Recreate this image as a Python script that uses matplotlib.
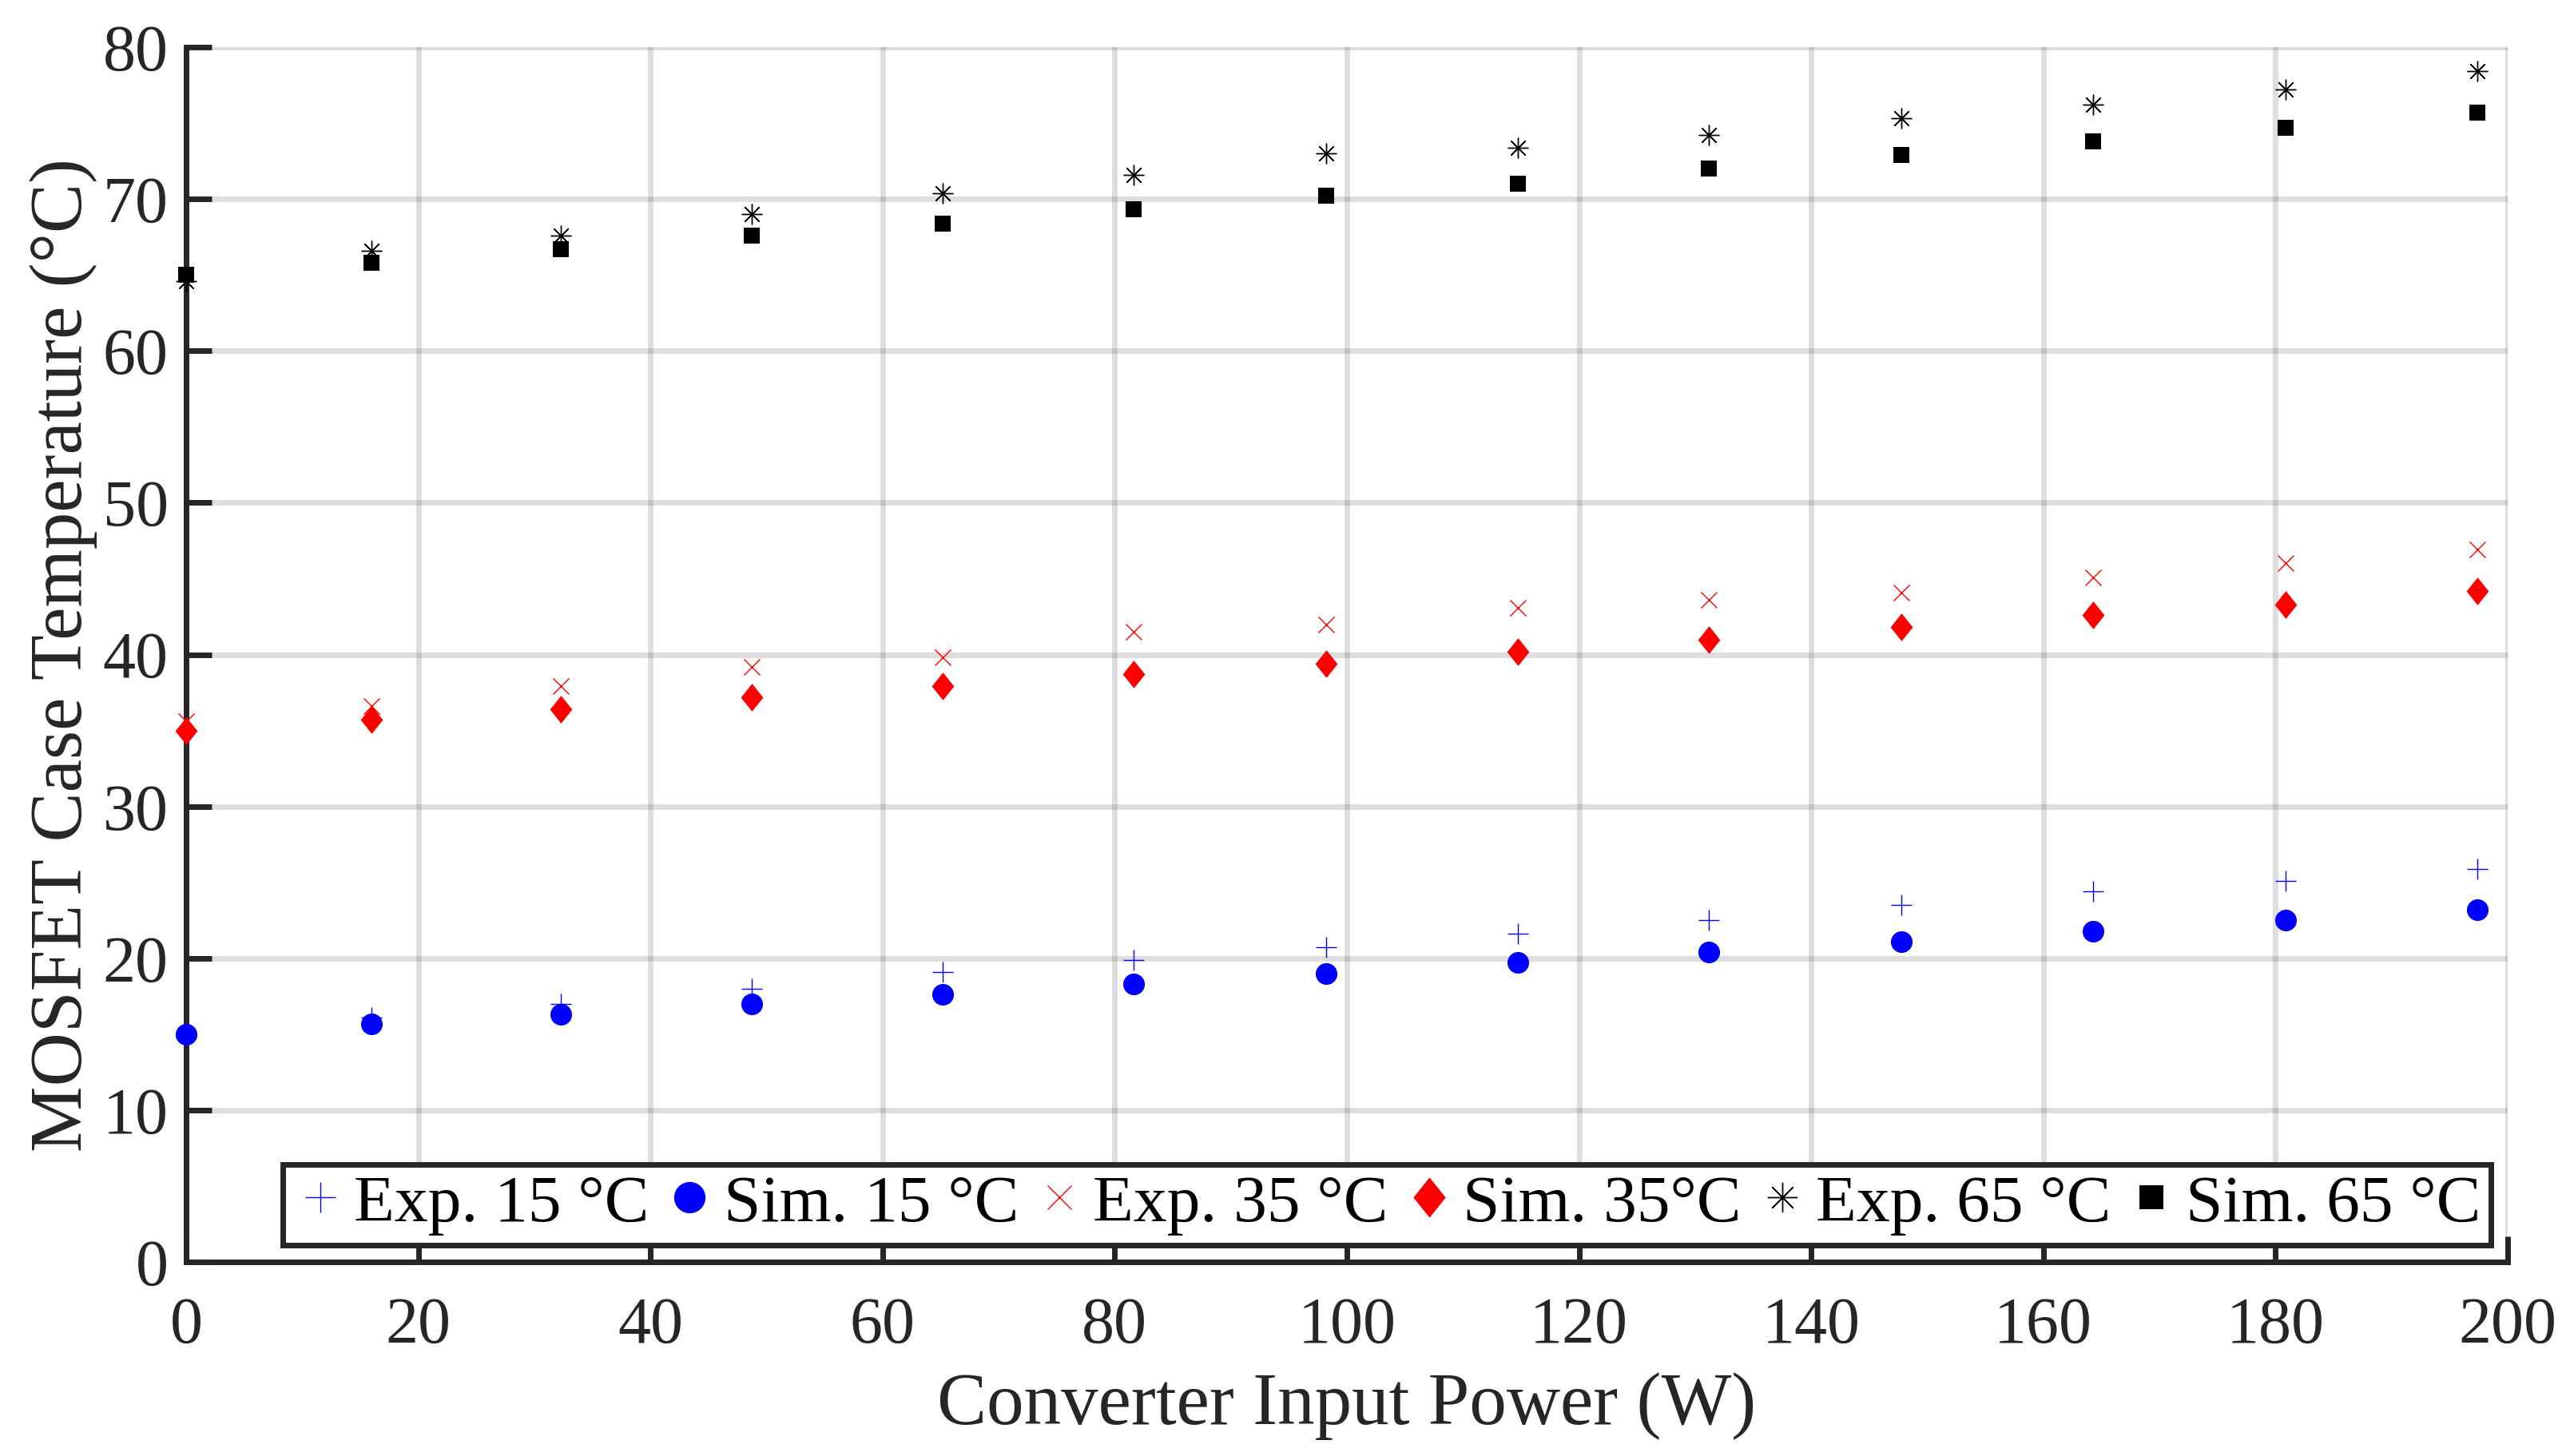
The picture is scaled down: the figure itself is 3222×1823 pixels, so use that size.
import numpy as np
import matplotlib
matplotlib.use("Agg")
import matplotlib.pyplot as plt

plt.rcParams['font.family'] = ['Liberation Serif', 'DejaVu Serif']

# --- data ------------------------------------------------------------------
power = [0, 16.0, 32.3, 48.7, 65.2, 81.6, 98.2, 114.7, 131.2, 147.8, 164.3, 180.9, 197.4]
exp_15 = [14.8, 16.1, 17.0, 18.0, 19.1, 19.9, 20.7, 21.6, 22.5, 23.5, 24.4, 25.1, 25.9]
sim_15 = [15.0, 15.7, 16.3, 17.0, 17.6, 18.3, 19.0, 19.7, 20.4, 21.1, 21.8, 22.5, 23.2]
exp_35 = [35.6, 36.6, 37.9, 39.2, 39.8, 41.5, 42.0, 43.1, 43.6, 44.1, 45.1, 46.0, 46.9]
sim_35 = [35.0, 35.7, 36.4, 37.2, 37.9, 38.7, 39.4, 40.2, 41.0, 41.8, 42.6, 43.3, 44.2]
exp_65 = [64.6, 66.6, 67.6, 69.0, 70.4, 71.6, 73.0, 73.4, 74.2, 75.3, 76.2, 77.2, 78.4]
sim_65 = [65.0, 65.8, 66.7, 67.6, 68.4, 69.3, 70.2, 71.0, 72.0, 72.9, 73.8, 74.7, 75.7]

labels = ['Exp. 15 °C', 'Sim. 15 °C', 'Exp. 35 °C', 'Sim. 35°C', 'Exp. 65 °C', 'Sim. 65 °C']

DARK = '#262626'
# MATLAB-like tall diamond
tall_diamond = [(0, 1), (0.8, 0), (0, -1), (-0.8, 0), (0, 1)]

fig = plt.figure(figsize=(32.23, 18.23), dpi=100)
ax = fig.add_axes([0.0723, 0.1333, 0.9016, 0.8343])

kw = dict(ls='none', clip_on=False, zorder=5)
ax.plot(power, exp_15, marker='+', ms=19, mew=1.0, color='blue', label=labels[0], **kw)
ax.plot(power, sim_15, marker='o', ms=19.5, mew=0, color='blue', label=labels[1], **kw)
ax.plot(power, exp_35, marker='x', ms=14.5, mew=1.0, color='red', label=labels[2], **kw)
ax.plot(power, sim_35, marker=tall_diamond, ms=25, mew=0, color='red', label=labels[3], **kw)
ax.plot(power, exp_65, marker=(8, 2, 0), ms=18.5, mew=1.0, color='black', label=labels[4], **kw)
ax.plot(power, sim_65, marker='s', ms=14.5, mew=0, color='black', label=labels[5], **kw)

ax.set_xlim(0, 200)
ax.set_ylim(0, 80)
ax.set_xticks(np.arange(0, 201, 20))
ax.set_yticks(np.arange(0, 81, 10))

ax.grid(True, color=DARK, alpha=0.15, lw=5)
ax.set_axisbelow(True)
for side in ['top', 'right']:
    ax.spines[side].set_visible(False)
for side in ['left', 'bottom']:
    ax.spines[side].set_linewidth(5)
    ax.spines[side].set_color(DARK)

ax.tick_params(axis='both', direction='in', length=23, width=5, color=DARK,
               labelcolor=DARK, labelsize=59)
ax.tick_params(axis='x', pad=31)
ax.tick_params(axis='y', pad=16)

ax.set_xlabel('Converter Input Power (W)', fontsize=67, color=DARK, labelpad=14)
ax.set_ylabel('MOSFET Case Temperature (°C)', fontsize=67, color=DARK, labelpad=5)

# legend markers are drawn larger than the plot markers in the original
leg = ax.legend(loc='lower left', bbox_to_anchor=(0.0416, 0.0138), ncol=6,
                fontsize=60, frameon=True, fancybox=False, framealpha=1,
                edgecolor=DARK, borderpad=0.15, handlelength=0.82,
                handletextpad=0.1, columnspacing=0.2, borderaxespad=0,
                markerscale=1.45)
leg.get_frame().set_linewidth(5)
leg.set_zorder(10)

fig.savefig('out.png', dpi=100, facecolor='white')
